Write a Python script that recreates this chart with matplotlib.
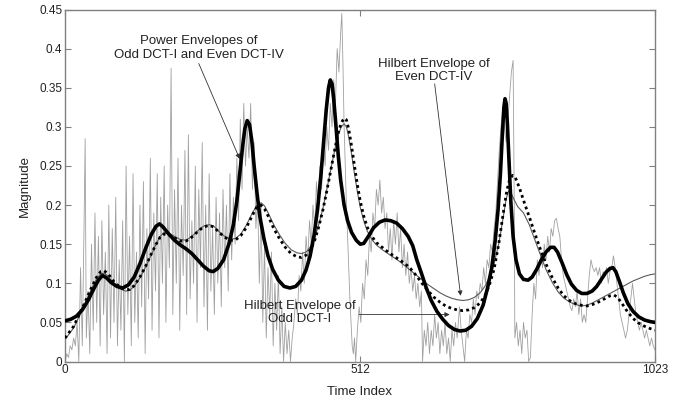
import matplotlib
matplotlib.use("Agg")
import matplotlib.pyplot as plt

plt.rcParams['font.family'] = ['Liberation Sans', 'DejaVu Sans']

# Noisy magnitude signal (time index, magnitude)
noise_idx = [0, 3, 6, 9, 12, 15, 18, 21, 24, 27, 30, 33, 35, 37, 40, 43, 46, 49, 52, 55, 58,
             61, 64, 67, 70, 73, 76, 79, 82, 85, 88, 91, 94, 97, 100, 103, 106, 109, 112, 115,
             118, 121, 124, 127, 130, 133, 136, 139, 142, 145, 148, 151, 154, 157, 160, 163,
             166, 169, 172, 175, 178, 181, 184, 187, 190, 193, 196, 199, 202, 205, 208, 211,
             214, 217, 220, 223, 226, 229, 232, 235, 238, 241, 244, 247, 250, 253, 256, 259,
             262, 265, 268, 271, 274, 277, 280, 283, 286, 289, 292, 295, 298, 301, 304, 307,
             310, 313, 316, 319, 322, 325, 328, 331, 334, 337, 340, 343, 346, 349, 352, 355,
             358, 361, 364, 367, 370, 373, 376, 379, 382, 385, 388, 391, 394, 397, 400, 403,
             406, 409, 412, 415, 418, 421, 424, 427, 430, 433, 436, 439, 442, 445, 448, 451,
             454, 457, 460, 463, 466, 469, 472, 475, 478, 480, 482, 484, 486, 488, 490, 492,
             494, 496, 498, 500, 502, 504, 507, 510, 513, 516, 519, 522, 525, 528, 531, 534,
             537, 540, 543, 546, 549, 552, 555, 558, 561, 564, 567, 570, 573, 576, 579, 582,
             585, 588, 591, 594, 597, 600, 603, 606, 609, 612, 615, 618, 620, 623, 626, 629,
             632, 635, 638, 641, 644, 647, 650, 653, 656, 659, 662, 665, 668, 671, 674, 677,
             680, 684, 687, 690, 693, 696, 699, 702, 705, 708, 711, 714, 717, 720, 723, 726,
             729, 732, 735, 738, 741, 744, 747, 750, 753, 756, 759, 762, 765, 768, 771, 774,
             777, 779, 780, 783, 786, 789, 792, 795, 798, 801, 804, 807, 810, 813, 816, 819,
             822, 825, 828, 831, 834, 837, 840, 843, 846, 849, 852, 855, 858, 861, 864, 867,
             870, 873, 876, 879, 882, 885, 888, 891, 894, 897, 900, 903, 906, 909, 912, 915,
             918, 921, 924, 927, 930, 933, 936, 939, 942, 945, 948, 951, 954, 957, 960, 963,
             966, 969, 972, 975, 978, 981, 984, 987, 990, 993, 996, 999, 1002, 1005, 1008,
             1011, 1014, 1017, 1020, 1023]
noise_val = [0.0, 0.01, 0.005, 0.02, 0.015, 0.03, 0.02, 0.05, 0.0, 0.12, 0.02, 0.17, 0.285, 0.03,
             0.09, 0.01, 0.15, 0.04, 0.19, 0.05, 0.16, 0.02, 0.18, 0.06, 0.14, 0.01, 0.2, 0.03,
             0.17, 0.05, 0.21, 0.02, 0.13, 0.04, 0.18, 0.0, 0.25, 0.06, 0.16, 0.02, 0.24, 0.05,
             0.14, 0.03, 0.2, 0.07, 0.23, 0.01, 0.17, 0.08, 0.26, 0.04, 0.19, 0.09, 0.24, 0.03,
             0.21, 0.1, 0.25, 0.05, 0.2, 0.12, 0.375, 0.06, 0.22, 0.1, 0.26, 0.04, 0.2, 0.11,
             0.27, 0.06, 0.29, 0.08, 0.18, 0.1, 0.25, 0.05, 0.22, 0.12, 0.28, 0.07, 0.2, 0.04,
             0.24, 0.09, 0.17, 0.06, 0.21, 0.1, 0.19, 0.07, 0.22, 0.12, 0.2, 0.09, 0.24, 0.13,
             0.21, 0.15, 0.26, 0.18, 0.31, 0.22, 0.33, 0.25, 0.3, 0.26, 0.33, 0.22, 0.28, 0.17,
             0.21, 0.1, 0.2, 0.05, 0.15, 0.03, 0.12, 0.06, 0.14, 0.02, 0.1, 0.04, 0.11, 0.01,
             0.07, 0.0, 0.05, 0.01, 0.04, 0.0, 0.03, 0.05, 0.08, 0.06, 0.11, 0.09, 0.14, 0.1,
             0.16, 0.13, 0.18, 0.15, 0.2, 0.17, 0.23, 0.19, 0.25, 0.22, 0.28, 0.25, 0.3, 0.27,
             0.33, 0.3, 0.36, 0.33, 0.4, 0.37, 0.42, 0.445, 0.38, 0.3, 0.25, 0.2, 0.16, 0.12,
             0.08, 0.05, 0.02, 0.01, 0.03, 0.0, 0.04, 0.07, 0.05, 0.1, 0.08, 0.13, 0.11, 0.16,
             0.14, 0.19, 0.17, 0.22, 0.2, 0.232, 0.19, 0.21, 0.17, 0.19, 0.14, 0.17, 0.13, 0.18,
             0.15, 0.19, 0.14, 0.17, 0.12, 0.15, 0.11, 0.14, 0.1, 0.12, 0.09, 0.11, 0.08, 0.1,
             0.07, 0.09, 0.0, 0.04, 0.02, 0.05, 0.01, 0.04, 0.02, 0.06, 0.03, 0.05, 0.01, 0.04,
             0.02, 0.05, 0.01, 0.03, 0.0, 0.04, 0.02, 0.05, 0.03, 0.07, 0.04, 0.02, 0.0, 0.04,
             0.03, 0.06, 0.05, 0.08, 0.06, 0.09, 0.08, 0.1, 0.09, 0.12, 0.1, 0.13, 0.12, 0.15,
             0.14, 0.17, 0.19, 0.23, 0.27, 0.3, 0.32, 0.3, 0.28, 0.31, 0.34, 0.37, 0.385, 0.2,
             0.03, 0.05, 0.02, 0.04, 0.01, 0.05, 0.03, 0.04, 0.0, 0.005, 0.06, 0.1, 0.08, 0.13,
             0.11, 0.14, 0.12, 0.15, 0.13, 0.16, 0.14, 0.17, 0.16, 0.18, 0.183, 0.17, 0.16, 0.13,
             0.11, 0.1, 0.09, 0.08, 0.07, 0.065, 0.08, 0.07, 0.09, 0.06, 0.08, 0.05, 0.06, 0.05,
             0.08, 0.11, 0.13, 0.12, 0.115, 0.12, 0.11, 0.12, 0.1, 0.115, 0.11, 0.12, 0.1, 0.115,
             0.12, 0.135, 0.12, 0.1, 0.08, 0.06, 0.05, 0.04, 0.03, 0.04, 0.06, 0.08, 0.1, 0.08,
             0.06, 0.05, 0.04, 0.05, 0.04, 0.03, 0.04, 0.03, 0.02, 0.03, 0.02, 0.015]

# Power envelopes of Odd DCT-I and Even DCT-IV
power_idx = [0, 10, 20, 30, 40, 50, 58, 65, 72, 80, 90, 100, 110, 120, 130, 140, 150, 158, 164,
             170, 180, 190, 200, 210, 220, 230, 240, 250, 257, 265, 275, 285, 292, 298, 303, 308,
             312, 316, 320, 324, 328, 333, 338, 345, 352, 360, 370, 380, 390, 400, 410, 418, 425,
             432, 438, 444, 449, 453, 457, 460, 463, 466, 470, 474, 478, 484, 490, 497, 505, 512,
             518, 526, 535, 545, 555, 565, 575, 585, 595, 603, 610, 618, 626, 635, 645, 655, 665,
             675, 685, 695, 705, 715, 725, 733, 740, 746, 751, 755, 758, 761, 763, 765, 767, 770,
             773, 777, 782, 788, 795, 803, 810, 818, 826, 834, 842, 848, 854, 862, 870, 878, 887,
             896, 905, 914, 922, 930, 938, 945, 950, 955, 961, 968, 976, 985, 995, 1005, 1015, 1023]
power_val = [0.052, 0.054, 0.058, 0.066, 0.078, 0.093, 0.104, 0.110, 0.107, 0.101, 0.096, 0.094,
             0.098, 0.108, 0.125, 0.145, 0.163, 0.173, 0.176, 0.172, 0.163, 0.155, 0.149, 0.144,
             0.138, 0.130, 0.122, 0.116, 0.115, 0.119, 0.130, 0.152, 0.175, 0.205, 0.240, 0.275,
             0.298, 0.308, 0.303, 0.282, 0.250, 0.215, 0.185, 0.157, 0.135, 0.118, 0.104, 0.096,
             0.094, 0.096, 0.104, 0.117, 0.135, 0.162, 0.195, 0.240, 0.285, 0.322, 0.350, 0.360,
             0.355, 0.335, 0.300, 0.262, 0.232, 0.200, 0.180, 0.165, 0.155, 0.150, 0.151, 0.160,
             0.171, 0.178, 0.181, 0.180, 0.177, 0.170, 0.160, 0.148, 0.130, 0.113, 0.095, 0.078,
             0.064, 0.054, 0.046, 0.041, 0.039, 0.040, 0.045, 0.055, 0.072, 0.095, 0.120, 0.155,
             0.195, 0.240, 0.285, 0.325, 0.336, 0.330, 0.305, 0.255, 0.205, 0.160, 0.130, 0.112,
             0.105, 0.104, 0.108, 0.118, 0.130, 0.140, 0.146, 0.146, 0.140, 0.126, 0.111, 0.099,
             0.091, 0.087, 0.087, 0.090, 0.096, 0.105, 0.114, 0.119, 0.120, 0.115, 0.103, 0.088,
             0.074, 0.064, 0.057, 0.053, 0.051, 0.050]

# Hilbert envelope of Odd DCT-I
odd_idx = [0, 15, 30, 45, 55, 62, 68, 75, 85, 95, 105, 112, 120, 130, 140, 150, 158, 165, 172,
           180, 190, 200, 210, 220, 230, 240, 250, 258, 266, 275, 285, 295, 305, 315, 325, 333,
           340, 346, 353, 362, 372, 382, 392, 402, 410, 418, 426, 433, 440, 447, 454, 461, 468,
           474, 479, 484, 488, 492, 497, 502, 507, 512, 518, 524, 532, 540, 550, 560, 570, 580,
           590, 600, 610, 620, 630, 640, 650, 660, 670, 680, 690, 700, 710, 720, 728, 736, 744,
           752, 760, 766, 771, 776, 781, 788, 796, 805, 815, 825, 835, 845, 855, 865, 875, 885,
           895, 905, 915, 925, 935, 945, 952, 958, 965, 975, 985, 995, 1005, 1015, 1023]
odd_val = [0.030, 0.045, 0.068, 0.093, 0.108, 0.115, 0.116, 0.112, 0.102, 0.095, 0.092, 0.092,
           0.097, 0.108, 0.122, 0.138, 0.150, 0.159, 0.163, 0.162, 0.158, 0.154, 0.154, 0.159,
           0.166, 0.172, 0.174, 0.172, 0.166, 0.160, 0.155, 0.155, 0.161, 0.172, 0.187, 0.198,
           0.200, 0.195, 0.185, 0.170, 0.157, 0.146, 0.138, 0.134, 0.133, 0.136, 0.143, 0.155,
           0.172, 0.193, 0.218, 0.245, 0.272, 0.293, 0.305, 0.311, 0.309, 0.297, 0.275, 0.250,
           0.226, 0.205, 0.186, 0.172, 0.160, 0.152, 0.146, 0.140, 0.135, 0.130, 0.125, 0.118,
           0.109, 0.099, 0.090, 0.082, 0.076, 0.071, 0.068, 0.066, 0.065, 0.066, 0.069, 0.075,
           0.084, 0.098, 0.118, 0.150, 0.190, 0.218, 0.233, 0.238, 0.235, 0.222, 0.204, 0.185,
           0.163, 0.142, 0.123, 0.107, 0.094, 0.084, 0.078, 0.074, 0.072, 0.071, 0.073, 0.076,
           0.080, 0.084, 0.085, 0.082, 0.075, 0.064, 0.055, 0.049, 0.045, 0.042, 0.040]

# Hilbert envelope of Even DCT-IV
even_idx = [0, 15, 30, 45, 55, 62, 68, 75, 85, 95, 105, 112, 120, 130, 140, 150, 158, 165, 172,
            180, 190, 200, 210, 220, 230, 240, 250, 258, 266, 275, 285, 295, 305, 315, 325, 333,
            340, 346, 353, 362, 372, 382, 392, 402, 410, 418, 426, 433, 440, 447, 454, 461, 468,
            474, 479, 484, 488, 492, 497, 502, 507, 512, 518, 524, 532, 540, 550, 560, 570, 580,
            590, 600, 610, 620, 630, 640, 650, 660, 670, 680, 690, 700, 710, 720, 728, 736, 744,
            752, 760, 765, 769, 773, 778, 785, 795, 805, 815, 825, 835, 845, 855, 865, 875, 885,
            895, 905, 915, 925, 935, 945, 955, 965, 975, 985, 995, 1005, 1015, 1023]
even_val = [0.028, 0.043, 0.066, 0.091, 0.106, 0.112, 0.113, 0.109, 0.099, 0.093, 0.090, 0.091,
            0.096, 0.107, 0.121, 0.137, 0.150, 0.160, 0.165, 0.164, 0.160, 0.156, 0.155, 0.160,
            0.167, 0.173, 0.175, 0.173, 0.167, 0.161, 0.157, 0.157, 0.163, 0.175, 0.190, 0.200,
            0.203, 0.199, 0.189, 0.175, 0.162, 0.151, 0.143, 0.139, 0.138, 0.140, 0.147, 0.158,
            0.175, 0.195, 0.220, 0.246, 0.271, 0.290, 0.300, 0.304, 0.300, 0.287, 0.265, 0.240,
            0.217, 0.197, 0.180, 0.167, 0.156, 0.149, 0.143, 0.138, 0.133, 0.128, 0.122, 0.116,
            0.110, 0.104, 0.098, 0.093, 0.088, 0.084, 0.081, 0.079, 0.078, 0.079, 0.082, 0.088,
            0.096, 0.108, 0.125, 0.150, 0.185, 0.208, 0.218, 0.216, 0.208, 0.198, 0.190, 0.175,
            0.155, 0.135, 0.116, 0.101, 0.089, 0.081, 0.076, 0.073, 0.071, 0.072, 0.075, 0.079,
            0.083, 0.087, 0.091, 0.095, 0.099, 0.103, 0.106, 0.109, 0.111, 0.112]

x_ticks = [0, 512, 1023]
y_ticks = [0, 0.05, 0.1, 0.15, 0.2, 0.25, 0.3, 0.35, 0.4, 0.45]
y_tick_labels = ['0', '0.05', '0.1', '0.15', '0.2', '0.25', '0.3', '0.35', '0.4', '0.45']

fig = plt.figure(figsize=(6.81, 4.05), dpi=100)
ax = fig.add_axes([0.0954, 0.1074, 0.8664, 0.869])

ax.plot(noise_idx, noise_val, color='#a0a0a0', lw=0.6, zorder=1)
ax.plot(even_idx, even_val, color='#5a5a5a', lw=0.8, zorder=2)
ax.plot(odd_idx, odd_val, color='black', lw=2.0, linestyle=(0, (1, 1.2)), zorder=3)
ax.plot(power_idx, power_val, color='black', lw=2.6, zorder=4,
        solid_joinstyle='round', solid_capstyle='round')

ax.set_xlim(0, 1023)
ax.set_ylim(0, 0.45)
ax.set_xticks(x_ticks)
ax.set_yticks(y_ticks)
ax.set_yticklabels(y_tick_labels)
ax.tick_params(direction='in', length=4, width=0.8, colors='#808080',
               labelcolor='#222222', labelsize=8.5, top=True, right=True, pad=2)
for s in ax.spines.values():
    s.set_color('#808080')
    s.set_linewidth(1.0)

ax.set_xlabel('Time Index', fontsize=9.5, color='#222222', labelpad=7)
ax.set_ylabel('Magnitude', fontsize=9.5, color='#222222', labelpad=6)

arrow = dict(arrowstyle='-|>', lw=0.6, color='#333333', mutation_scale=7,
             shrinkA=0, shrinkB=0)
text_kw = dict(ha='center', va='center', fontsize=9.5, color='#222222', linespacing=1.15)

ax.text(232, 0.401, 'Power Envelopes of\nOdd DCT-I and Even DCT-IV', **text_kw)
ax.annotate('', xy=(303, 0.259), xytext=(232, 0.381), arrowprops=arrow)

ax.text(640, 0.372, 'Hilbert Envelope of\nEven DCT-IV', **text_kw)
ax.annotate('', xy=(686, 0.084), xytext=(641, 0.355), arrowprops=arrow)

ax.text(407, 0.063, 'Hilbert Envelope of\nOdd DCT-I', **text_kw)
ax.annotate('', xy=(667, 0.060), xytext=(510, 0.060), arrowprops=arrow)

fig.savefig('out.png', dpi=100, facecolor='white')
